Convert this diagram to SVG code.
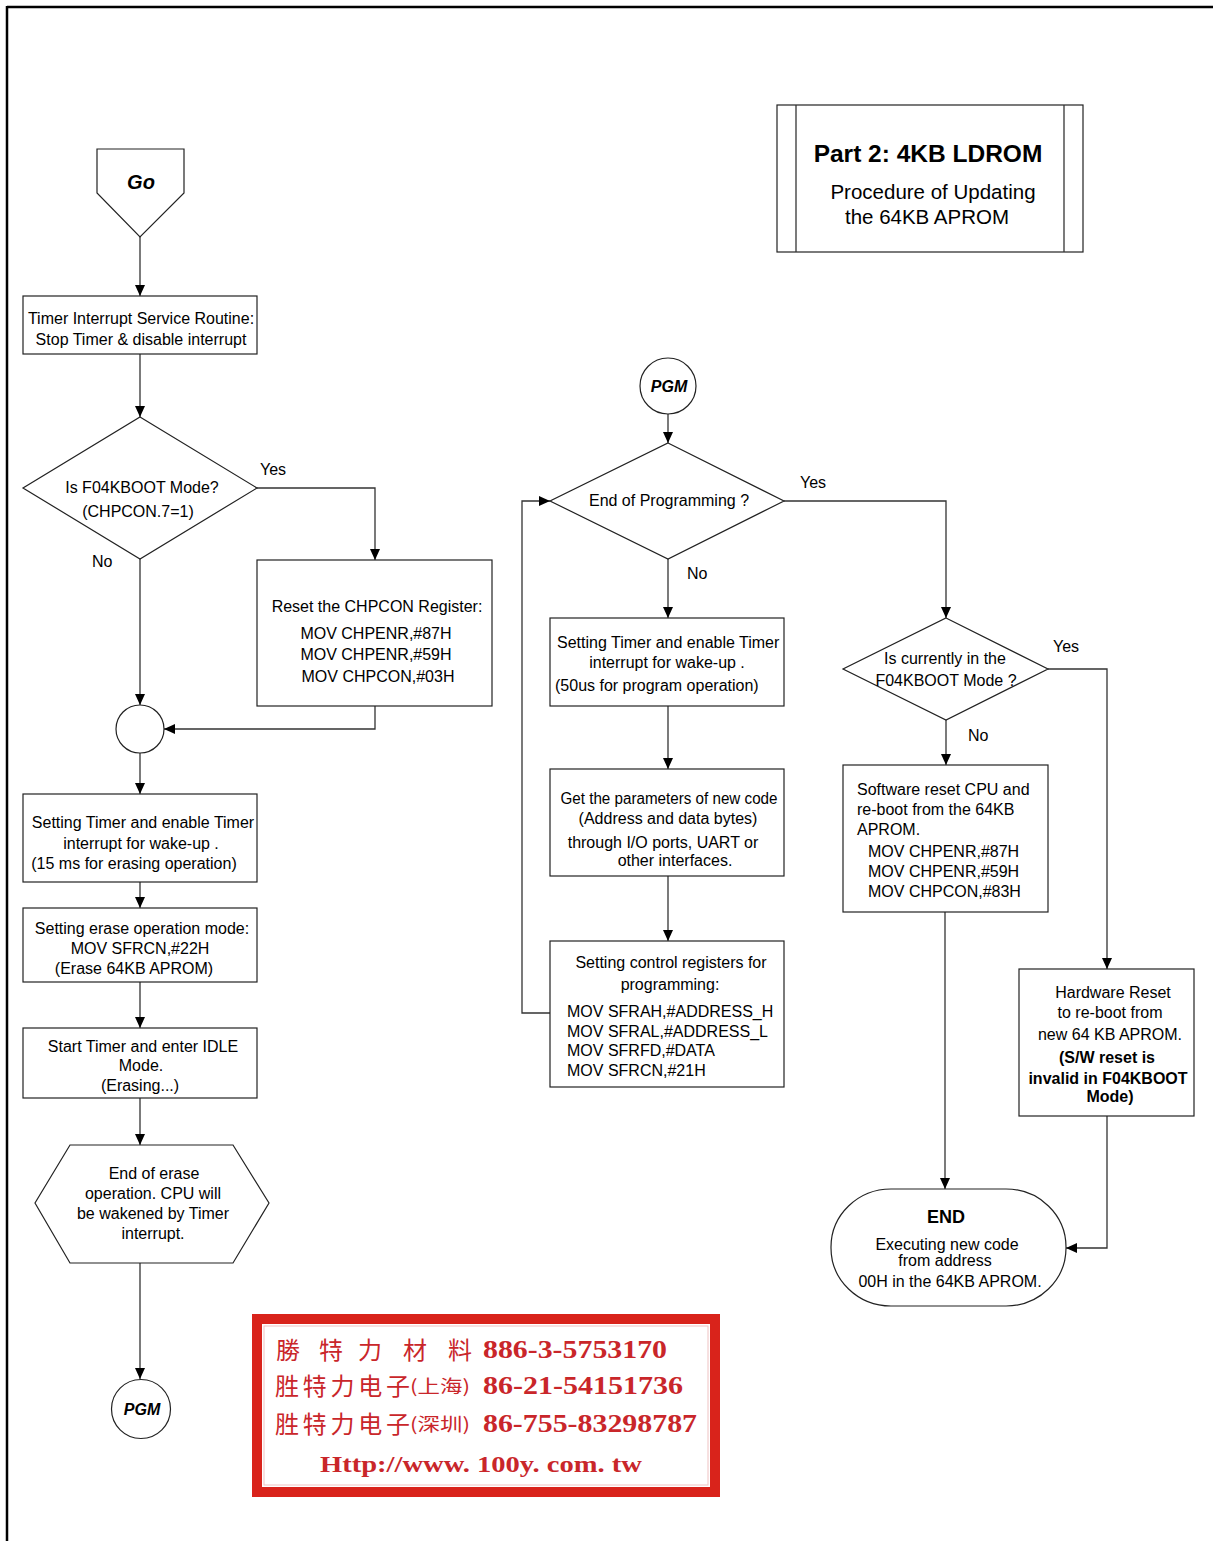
<svg xmlns="http://www.w3.org/2000/svg" width="1213" height="1541" viewBox="0 0 1213 1541">
<style>
.n{fill:#fff;stroke:#222;stroke-width:1.2}
.l{fill:none;stroke:#333;stroke-width:1.3}
.t{font-family:"Liberation Sans",Arial,sans-serif;font-size:16px;fill:#000}
.c{text-anchor:middle}
.b{font-weight:bold}
.bi{font-weight:bold;font-style:italic}
.r{font-family:"Liberation Serif","Noto Sans CJK TC",serif;font-weight:bold;fill:#c9262a}
.k{font-family:"Noto Sans CJK TC","Noto Sans CJK SC",sans-serif;fill:#c9262a}
</style>
<defs>
<marker id="a" markerUnits="userSpaceOnUse" markerWidth="12" markerHeight="10" refX="11" refY="5" orient="auto">
<path d="M0,0 L11,5 L0,10 z" fill="#000"/>
</marker>
</defs>
<rect width="1213" height="1541" fill="#fff"/>
<g id="frame">
<line x1="7" y1="7" x2="1213" y2="7" stroke="#000" stroke-width="2.5"/>
<line x1="7" y1="6" x2="7" y2="1541" stroke="#000" stroke-width="2.5"/>
</g>

<g id="connectors">
<line class="l" x1="140" y1="237" x2="140" y2="296" marker-end="url(#a)"/>
<line class="l" x1="140" y1="354" x2="140" y2="417" marker-end="url(#a)"/>
<path class="l" d="M257,488 H375 V560" marker-end="url(#a)"/>
<line class="l" x1="140" y1="559" x2="140" y2="705" marker-end="url(#a)"/>
<path class="l" d="M375,706 V729 H164" marker-end="url(#a)"/>
<line class="l" x1="140" y1="753" x2="140" y2="794" marker-end="url(#a)"/>
<line class="l" x1="140" y1="882" x2="140" y2="908" marker-end="url(#a)"/>
<line class="l" x1="140" y1="982" x2="140" y2="1028" marker-end="url(#a)"/>
<line class="l" x1="140" y1="1098" x2="140" y2="1145" marker-end="url(#a)"/>
<line class="l" x1="140" y1="1263" x2="140" y2="1379" marker-end="url(#a)"/>
<line class="l" x1="668" y1="414" x2="668" y2="443" marker-end="url(#a)"/>
<path class="l" d="M784,501 H946 V618" marker-end="url(#a)"/>
<line class="l" x1="668" y1="559" x2="668" y2="618" marker-end="url(#a)"/>
<line class="l" x1="668" y1="706" x2="668" y2="769" marker-end="url(#a)"/>
<line class="l" x1="668" y1="876" x2="668" y2="941" marker-end="url(#a)"/>
<path class="l" d="M550,1013 H522 V501 H550" marker-end="url(#a)"/>
<path class="l" d="M1048,669 H1107 V969" marker-end="url(#a)"/>
<line class="l" x1="946" y1="720" x2="946" y2="765" marker-end="url(#a)"/>
<line class="l" x1="945" y1="912" x2="945" y2="1189" marker-end="url(#a)"/>
<path class="l" d="M1107,1116 V1248 H1066" marker-end="url(#a)"/>
<text class="t" x="260" y="475">Yes</text>
<text class="t" x="92" y="567">No</text>
<text class="t" x="800" y="488">Yes</text>
<text class="t" x="687" y="579">No</text>
<text class="t" x="1053" y="652">Yes</text>
<text class="t" x="968" y="741">No</text>
</g>

<g id="title">
<rect class="n" x="777" y="105" width="306" height="147"/>
<line class="l" x1="796" y1="105" x2="796" y2="252"/>
<line class="l" x1="1064" y1="105" x2="1064" y2="252"/>
<text class="t c b" x="928" y="162" style="font-size:24.5px">Part 2: 4KB LDROM</text>
<text class="t c" x="933" y="199" style="font-size:20.5px">Procedure of Updating</text>
<text class="t c" x="927" y="224" style="font-size:20.5px">the 64KB APROM</text>
</g>

<g id="go">
<polygon class="n" points="97,149 184,149 184,193 140,237 97,193"/>
<text class="t c bi" x="141" y="189" style="font-size:20px">Go</text>
</g>

<g id="isr">
<rect class="n" x="23" y="296" width="234" height="58"/>
<text class="t c" x="141" y="324">Timer Interrupt Service Routine:</text>
<text class="t c" x="141" y="345">Stop Timer &amp; disable interrupt</text>
</g>

<g id="dec-boot">
<polygon class="n" points="140,417 257,488 140,559 23,488"/>
<text class="t c" x="142" y="493">Is F04KBOOT Mode?</text>
<text class="t c" x="138" y="517">(CHPCON.7=1)</text>
</g>

<g id="reset-chpcon">
<rect class="n" x="257" y="560" width="235" height="146"/>
<text class="t c" x="377" y="612">Reset the CHPCON Register:</text>
<text class="t c" x="376" y="639">MOV CHPENR,#87H</text>
<text class="t c" x="376" y="660">MOV CHPENR,#59H</text>
<text class="t c" x="378" y="682">MOV CHPCON,#03H</text>
</g>

<g id="join">
<circle class="n" cx="140" cy="729" r="24"/>
</g>

<g id="timer-erase">
<rect class="n" x="23" y="794" width="234" height="88"/>
<text class="t c" x="143" y="828">Setting Timer and enable Timer</text>
<text class="t c" x="141" y="849">interrupt for wake-up .</text>
<text class="t c" x="134" y="869">(15 ms for erasing operation)</text>
</g>

<g id="erase-mode">
<rect class="n" x="23" y="908" width="234" height="74"/>
<text class="t c" x="142" y="934">Setting erase operation mode:</text>
<text class="t c" x="140" y="954">MOV SFRCN,#22H</text>
<text class="t c" x="134" y="974">(Erase 64KB APROM)</text>
</g>

<g id="idle">
<rect class="n" x="23" y="1028" width="234" height="70"/>
<text class="t c" x="143" y="1052">Start Timer and enter IDLE</text>
<text class="t c" x="141" y="1071">Mode.</text>
<text class="t c" x="140" y="1091">(Erasing...)</text>
</g>

<g id="end-erase">
<polygon class="n" points="70,1145 233,1145 269,1203 233,1263 70,1263 35,1203"/>
<text class="t c" x="154" y="1179">End of erase</text>
<text class="t c" x="153" y="1199">operation. CPU will</text>
<text class="t c" x="153" y="1219">be wakened by Timer</text>
<text class="t c" x="153" y="1239">interrupt.</text>
</g>

<g id="pgm-out">
<circle class="n" cx="141" cy="1409" r="29.5"/>
<text class="t c bi" x="142" y="1415">PGM</text>
</g>

<g id="pgm-in">
<circle class="n" cx="668" cy="386" r="28"/>
<text class="t c bi" x="669" y="392">PGM</text>
</g>

<g id="dec-end-prog">
<polygon class="n" points="668,443 784,501 668,559 550,501"/>
<text class="t c" x="669" y="506">End of Programming ?</text>
</g>

<g id="timer-prog">
<rect class="n" x="550" y="618" width="234" height="88"/>
<text class="t" x="557" y="648">Setting Timer and enable Timer</text>
<text class="t c" x="667" y="668">interrupt for wake-up .</text>
<text class="t" x="555" y="691">(50us for program operation)</text>
</g>

<g id="get-params">
<rect class="n" x="550" y="769" width="234" height="107"/>
<text class="t c" x="669" y="804" textLength="217" lengthAdjust="spacingAndGlyphs">Get the parameters of new code</text>
<text class="t c" x="668" y="824">(Address and data bytes)</text>
<text class="t c" x="663" y="848">through I/O ports, UART or</text>
<text class="t c" x="675" y="866">other interfaces.</text>
</g>

<g id="ctrl-regs">
<rect class="n" x="550" y="941" width="234" height="146"/>
<text class="t c" x="671" y="968">Setting control registers for</text>
<text class="t c" x="670" y="990">programming:</text>
<text class="t" x="567" y="1017">MOV SFRAH,#ADDRESS_H</text>
<text class="t" x="567" y="1037">MOV SFRAL,#ADDRESS_L</text>
<text class="t" x="567" y="1056">MOV SFRFD,#DATA</text>
<text class="t" x="567" y="1076">MOV SFRCN,#21H</text>
</g>

<g id="dec-current">
<polygon class="n" points="946,618 1048,669 946,720 843,669"/>
<text class="t c" x="945" y="664">Is currently in the</text>
<text class="t c" x="946" y="686">F04KBOOT Mode ?</text>
</g>

<g id="sw-reset">
<rect class="n" x="843" y="765" width="205" height="147"/>
<text class="t" x="857" y="795">Software reset CPU and</text>
<text class="t" x="857" y="815">re-boot from the 64KB</text>
<text class="t" x="857" y="835">APROM.</text>
<text class="t" x="868" y="857">MOV CHPENR,#87H</text>
<text class="t" x="868" y="877">MOV CHPENR,#59H</text>
<text class="t" x="868" y="897">MOV CHPCON,#83H</text>
</g>

<g id="hw-reset">
<rect class="n" x="1019" y="969" width="175" height="147"/>
<text class="t c" x="1113" y="998">Hardware Reset</text>
<text class="t c" x="1110" y="1018">to re-boot from</text>
<text class="t c" x="1110" y="1040">new 64 KB APROM.</text>
<text class="t c b" x="1107" y="1063">(S/W reset is</text>
<text class="t c b" x="1108" y="1084">invalid in F04KBOOT</text>
<text class="t c b" x="1110" y="1102">Mode)</text>
</g>

<g id="end">
<rect class="n" x="831" y="1189" width="235" height="117" rx="60" ry="58"/>
<text class="t c b" x="946" y="1223" style="font-size:18px">END</text>
<text class="t c" x="947" y="1250">Executing new code</text>
<text class="t c" x="945" y="1266">from address</text>
<text class="t c" x="950" y="1287">00H in the 64KB APROM.</text>
</g>

<g id="stamp">
<rect x="257" y="1319" width="458" height="173" fill="#fff" stroke="#d9231b" stroke-width="10"/>
<rect x="264" y="1326" width="444" height="159" fill="none" stroke="#efc2c2" stroke-width="1"/>
<text class="k" x="276 319 358 403 448" y="1359" style="font-size:24px">勝特力材料</text>
<text class="r" x="483" y="1358" style="font-size:26px" textLength="184" lengthAdjust="spacingAndGlyphs">886-3-5753170</text>
<text class="k" x="275" y="1395" style="font-size:24px" textLength="135" lengthAdjust="spacing">胜特力电子</text>
<text class="k" x="410" y="1393" style="font-size:18px" textLength="60" lengthAdjust="spacingAndGlyphs">(上海)</text>
<text class="r" x="483" y="1394" style="font-size:26px" textLength="200" lengthAdjust="spacingAndGlyphs">86-21-54151736</text>
<text class="k" x="275" y="1433" style="font-size:24px" textLength="135" lengthAdjust="spacing">胜特力电子</text>
<text class="k" x="410" y="1431" style="font-size:18px" textLength="60" lengthAdjust="spacingAndGlyphs">(深圳)</text>
<text class="r" x="483" y="1432" style="font-size:26px" textLength="214" lengthAdjust="spacingAndGlyphs">86-755-83298787</text>
<text class="r" x="320" y="1472" style="font-size:24px" textLength="322" lengthAdjust="spacingAndGlyphs">Http://www. 100y. com. tw</text>
</g>
</svg>
